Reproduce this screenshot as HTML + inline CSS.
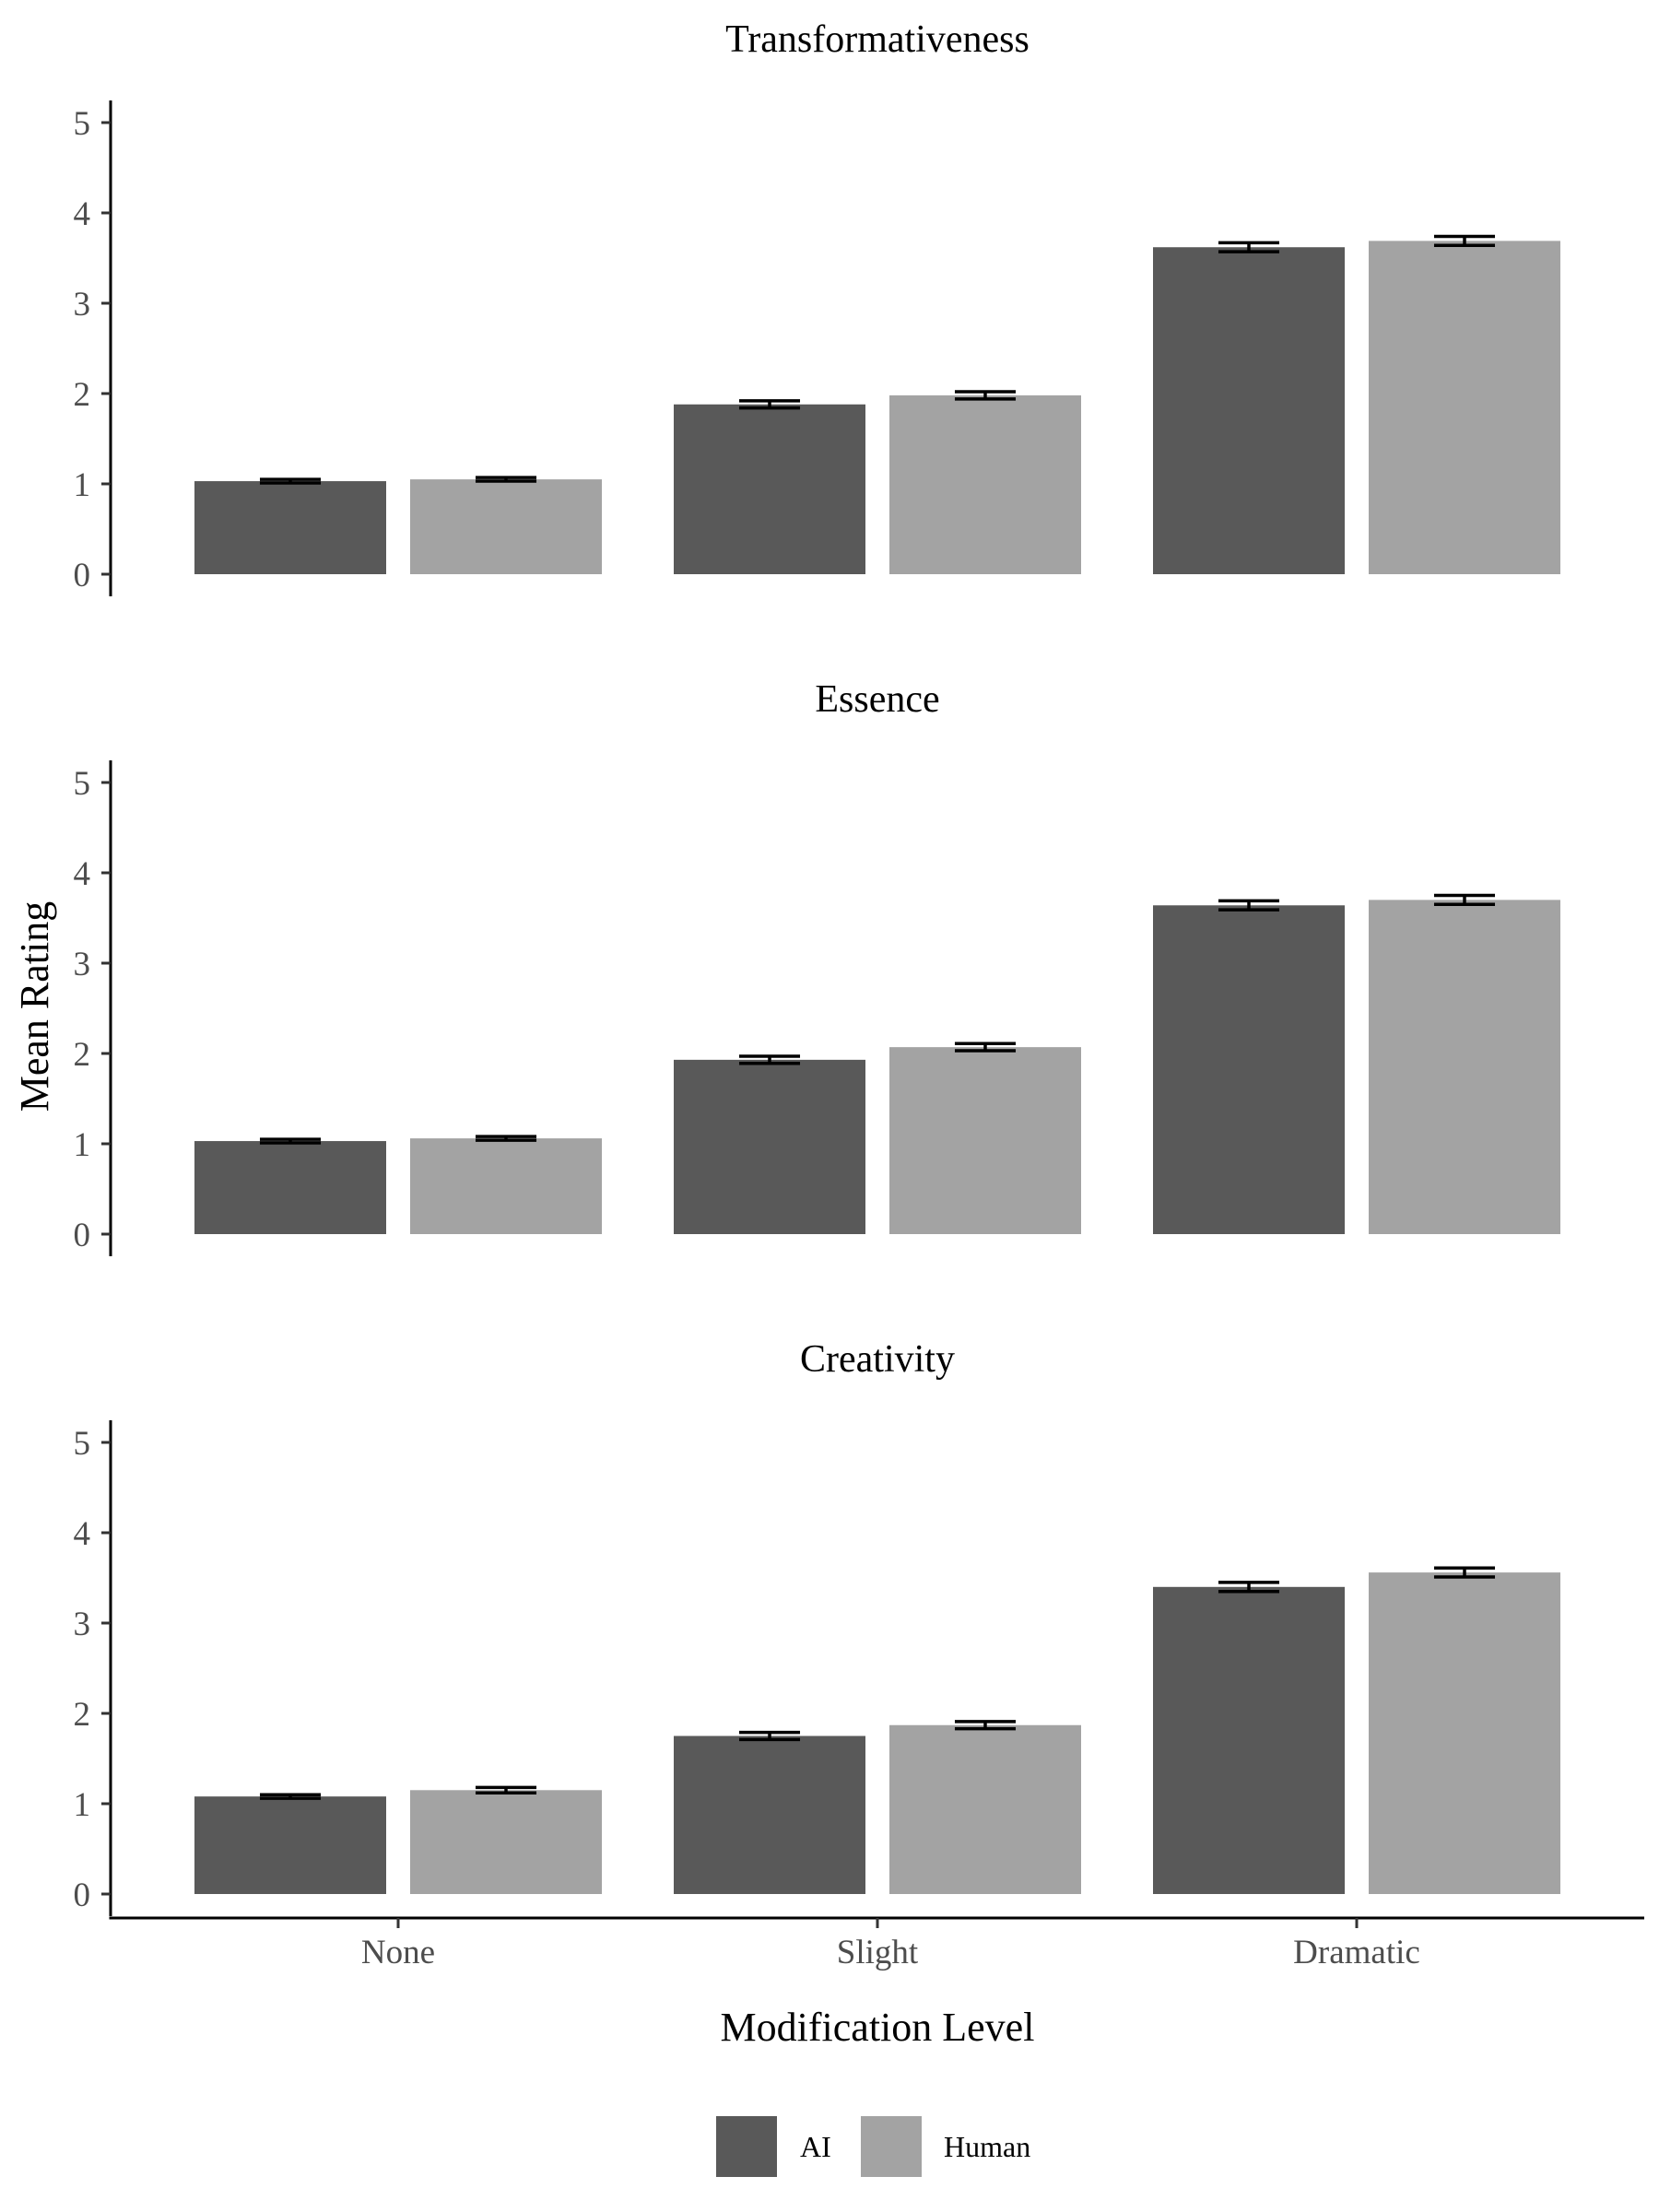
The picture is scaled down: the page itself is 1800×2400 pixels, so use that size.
<!DOCTYPE html>
<html><head><meta charset="utf-8"><style>
html,body{margin:0;padding:0;background:#fff}
svg{display:block}
text{font-family:"Liberation Serif",serif}
</style></head><body>
<svg id="chart" width="1800" height="2400" viewBox="0 0 1800 2400" xmlns="http://www.w3.org/2000/svg">
<g id="panels"></g>
<text x="0" y="0" transform="translate(52,1092) rotate(-90)" text-anchor="middle" font-size="44" fill="#000">Mean Rating</text>
<text x="952" y="2214" text-anchor="middle" font-size="44" fill="#000">Modification Level</text>
<g>
<rect x="777" y="2296" width="66" height="66" fill="#595959"/>
<text x="868" y="2340" font-size="32" fill="#000">AI</text>
<rect x="934" y="2296" width="66" height="66" fill="#a3a3a3"/>
<text x="1024" y="2340" font-size="32" fill="#000">Human</text>
</g>
</svg>
<script>
const categories = ["None", "Slight", "Dramatic"];
const panelTitles = ["Transformativeness", "Essence", "Creativity"];
const aiValues = [[1.03, 1.88, 3.62], [1.03, 1.93, 3.64], [1.08, 1.75, 3.40]];
const humanValues = [[1.05, 1.98, 3.69], [1.06, 2.07, 3.70], [1.15, 1.87, 3.56]];
const aiErrors = [[0.02, 0.04, 0.05], [0.02, 0.04, 0.05], [0.02, 0.04, 0.05]];
const humanErrors = [[0.02, 0.04, 0.05], [0.02, 0.04, 0.05], [0.03, 0.04, 0.05]];
const yTicks = [0, 1, 2, 3, 4, 5];

const NS = "http://www.w3.org/2000/svg";
const root = document.getElementById("panels");
const left = 120, right = 1784, unitX = (right - left) / 3.2;
const pxPerY = 98;
const zeroYs = [623, 1339, 2055];
function xScale(i) { return left + (0.6 + i) * unitX; }
function mk(tag, attrs, parent) {
  const e = document.createElementNS(NS, tag);
  for (const k in attrs) e.setAttribute(k, attrs[k]);
  parent.appendChild(e);
  return e;
}
panelTitles.forEach((title, p) => {
  const y0 = zeroYs[p];
  const yScale = v => y0 - v * pxPerY;
  const g = mk("g", {}, root);
  
  
  const t = mk("text", {x: 952, y: yScale(5) - 77, "text-anchor": "middle", "font-size": 42, fill: "#000"}, g);
  t.textContent = title;
  
  
  const ax = mk("line", {x1: left, x2: left, y1: yScale(5.245), y2: yScale(-0.245), stroke: "#000", "stroke-width": 3}, g);
  
  
  yTicks.forEach(v => {
    const tk = mk("line", {x1: left - 10, x2: left, y1: yScale(v), y2: yScale(v), stroke: "#333", "stroke-width": 3}, g);
    
    
    const lb = mk("text", {x: left - 22, y: yScale(v) + 13, "text-anchor": "end", "font-size": 37, fill: "#4d4d4d"}, g);
    lb.textContent = v;
    
    
  });
  categories.forEach((c, i) => {
    [[aiValues, aiErrors, "#595959", -1, "ai"], [humanValues, humanErrors, "#a3a3a3", 1, "human"]].forEach(([vals, errs, col, side, nm]) => {
      const v = vals[p][i], e = errs[p][i];
      const cx = xScale(i) + side * 0.225 * unitX;
      const w = 0.4 * unitX;
      const r = mk("rect", {x: cx - w / 2, y: yScale(v), width: w, height: v * pxPerY, fill: col}, g);
      
      
      const eg = mk("g", {stroke: "#000", "stroke-width": 3.5, fill: "none"}, g);
      
      
      const cw = 0.0635 * unitX;
      mk("line", {x1: cx, x2: cx, y1: yScale(v + e), y2: yScale(v - e)}, eg);
      mk("line", {x1: cx - cw, x2: cx + cw, y1: yScale(v + e), y2: yScale(v + e)}, eg);
      mk("line", {x1: cx - cw, x2: cx + cw, y1: yScale(v - e), y2: yScale(v - e)}, eg);
    });
  });
  if (p === 2) {
    const xa = mk("line", {x1: left - 1.5, x2: right, y1: 2081, y2: 2081, stroke: "#000", "stroke-width": 3}, g);
    
    
    categories.forEach((c, i) => {
      const tk = mk("line", {x1: xScale(i), x2: xScale(i), y1: 2081, y2: 2092, stroke: "#333", "stroke-width": 3}, g);
      
      
      const lb = mk("text", {x: xScale(i), y: 2130, "text-anchor": "middle", "font-size": 37, fill: "#4d4d4d"}, g);
      lb.textContent = c;
      
      
    });
  }
});
</script>
</body></html>
